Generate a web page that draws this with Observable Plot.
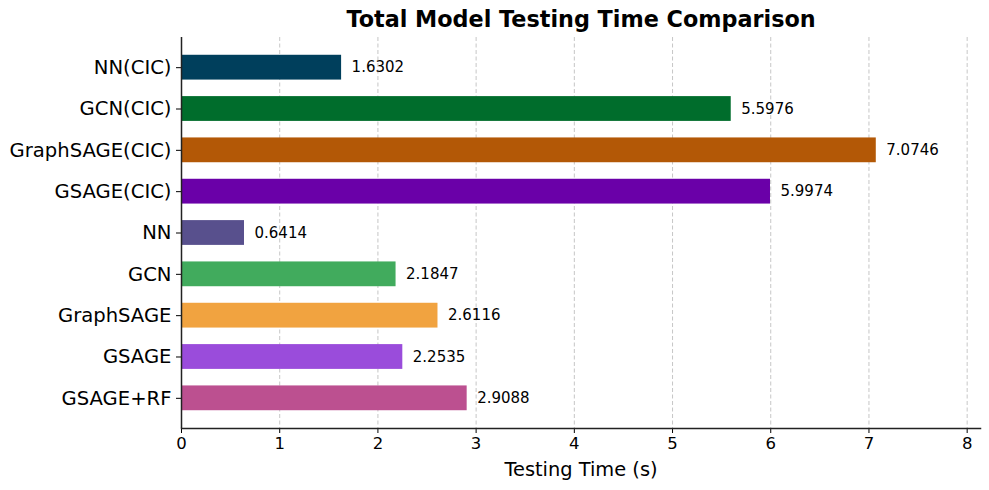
<!DOCTYPE html>
<html>
<head>
<meta charset="utf-8">
<script src="https://cdn.jsdelivr.net/npm/d3@7"></script>
<script src="https://cdn.jsdelivr.net/npm/@observablehq/plot@0.6"></script>
<style>
  html, body { margin: 0; padding: 0; background: #fff; }
  #chart svg { display: block; }
</style>
</head>
<body>
<div id="chart"></div>
<script>
const models = ["NN(CIC)", "GCN(CIC)", "GraphSAGE(CIC)", "GSAGE(CIC)", "NN", "GCN", "GraphSAGE", "GSAGE", "GSAGE+RF"];
const times = [1.6302, 5.5976, 7.0746, 5.9974, 0.6414, 2.1847, 2.6116, 2.2535, 2.9088];
const colors = ["#003f5c", "#006d2c", "#b35806", "#6a00a8", "#58508d", "#41ab5d", "#f1a340", "#9a4cdb", "#bc5090"];
const xTicks = [0, 1, 2, 3, 4, 5, 6, 7, 8];
const title = "Total Model Testing Time Comparison";
const xLabel = "Testing Time (s)";

const data = models.map((m, i) => ({model: m, time: times[i], color: colors[i]}));
const xMax = d3.max(times) * 1.15;

const chart = Plot.plot({
  width: 989,
  height: 490,
  marginLeft: 181,
  marginRight: 9,
  marginTop: 37,
  marginBottom: 62,
  style: {fontFamily: "DejaVu Sans, sans-serif", color: "#000", background: "#fff"},
  x: {domain: [0, xMax], ticks: xTicks},
  y: {domain: models, paddingInner: 0.4, paddingOuter: 0.43, round: false},
  color: {type: "identity"},
  marks: [
    Plot.gridX(xTicks, {stroke: "#b0b0b0", strokeOpacity: 0.8, strokeDasharray: "4,2.5", strokeWidth: 0.9}),
    Plot.barX(data, {x: "time", y: "model", fill: "color"}),
    Plot.text(data, {x: "time", y: "model", text: d => d.time.toFixed(4), textAnchor: "start", dx: 10, fontSize: 15, fill: "#000"}),
    Plot.axisY({tickSize: 5, tickPadding: 5, fontSize: 19.6, label: null, stroke: "#000"}),
    Plot.axisX({ticks: xTicks, tickSize: 5, tickPadding: 4, fontSize: 16.5, label: null, tickFormat: d => String(d)}),
    Plot.ruleX([0], {stroke: "#222", strokeWidth: 1.5}),
    Plot.frame({anchor: "bottom", stroke: "#222", strokeWidth: 1.5}),
    Plot.text([xLabel], {frameAnchor: "bottom", dy: 47, fontSize: 19.4, fill: "#000"}),
    Plot.text([title], {frameAnchor: "top", dy: -26, fontSize: 22.3, fontWeight: "bold", fill: "#000"})
  ]
});
document.getElementById("chart").appendChild(chart);
</script>
</body>
</html>
